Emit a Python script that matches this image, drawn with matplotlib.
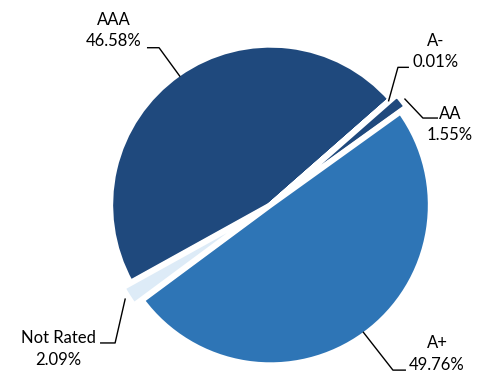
import numpy as np
import matplotlib

matplotlib.use("Agg")

import matplotlib.pyplot as plt

ratings = ["AAA", "A-", "AA", "A+", "Not Rated"]
shares = [46.58, 0.01, 1.55, 49.76, 2.09]
colors = ["#1F497D", "#1F497D", "#1F497D", "#2E75B6", "#DDEBF7"]
explode = [0.0, 0.0, 0.05, 0.0, 0.06]

# label block centre, leader elbow and leader end x (data units)
label_pos = {
    "AAA": ((-1.000, 1.115), (-0.710, 1.002), -0.787),
    "A-": ((1.054, 0.981), (0.812, 0.877), 0.882),
    "AA": ((1.143, 0.516), (0.971, 0.554), 1.067),
    "A+": ((1.061, -0.948), (0.780, -1.052), 0.863),
    "Not Rated": ((-1.354, -0.914), (-0.990, -0.879), -1.086),
}

plt.rcParams["font.family"] = ["Lato", "DejaVu Sans"]

fig = plt.figure(figsize=(4.87, 3.72), dpi=100)
ax = fig.add_axes([0, 0, 1, 1])

wedges, _ = ax.pie(
    shares,
    colors=colors,
    explode=explode,
    startangle=209,
    counterclock=False,
    radius=1.02,
    wedgeprops={"edgecolor": "white", "linewidth": 4.0},
)
ax.set_xlim(-1.723, 1.379)
ax.set_ylim(-1.064, 1.306)
ax.axis("off")

for wedge, name, value in zip(wedges, ratings, shares):
    mid = np.deg2rad((wedge.theta1 + wedge.theta2) / 2)
    cx, cy = wedge.center
    r = 1.0 + (abs(cx) + abs(cy) > 0) * 0.04
    anchor = (cx + r * np.cos(mid), cy + r * np.sin(mid))
    (tx, ty), elbow, end_x = label_pos[name]
    ax.text(tx, ty + 0.034, name, ha="center", va="baseline", fontsize=12, color="black")
    ax.text(tx, ty - 0.104, f"{value:.2f}%", ha="center", va="baseline", fontsize=12, color="black")
    ax.plot([anchor[0], elbow[0], end_x], [anchor[1], elbow[1], elbow[1]],
            color="black", lw=1.0, solid_capstyle="butt")

fig.savefig("out.png", dpi=100)
